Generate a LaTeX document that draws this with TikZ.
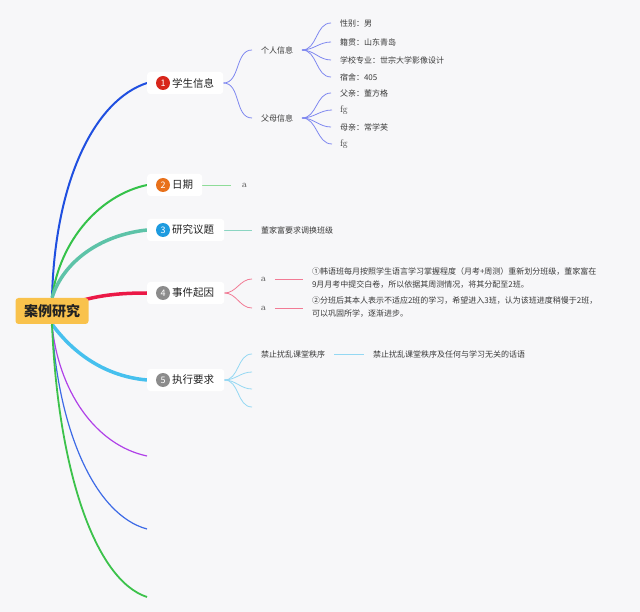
\documentclass[tikz,border=0pt]{standalone}
\usepackage{fontspec}
\newfontfamily\cjk{Noto Sans CJK SC}
\usetikzlibrary{backgrounds}
\definecolor{bgcol}{HTML}{F7F7F9}
\definecolor{rootfill}{HTML}{F9C24C}
\definecolor{txtdark}{HTML}{222222}
\definecolor{txtleaf}{HTML}{3A3A3A}
\definecolor{cA}{HTML}{1F4FE0}
\definecolor{cB}{HTML}{35C24A}
\definecolor{cC}{HTML}{5DC3A8}
\definecolor{cD}{HTML}{EB1846}
\definecolor{cE}{HTML}{46C0EE}
\definecolor{cF}{HTML}{B040E8}
\definecolor{cG}{HTML}{3D6AE6}
\definecolor{cH}{HTML}{3CC24B}
\definecolor{sA}{HTML}{7F88F0}
\definecolor{sB}{HTML}{8EDC98}
\definecolor{sC}{HTML}{8BD5C2}
\definecolor{sD}{HTML}{F27B95}
\definecolor{sE}{HTML}{94D8F3}
\definecolor{iA}{HTML}{D8261B}
\definecolor{iB}{HTML}{E8711B}
\definecolor{iC}{HTML}{1E9BDF}
\definecolor{iD}{HTML}{8C8C8C}
\tikzset{
  rootbox/.style={fill=rootfill, rounded corners=3pt, minimum width=73pt, minimum height=26pt, inner sep=0pt,
    font=\cjk\bfseries\fontsize{14}{16}\selectfont, text=txtdark},
  mainbox/.style={fill=white, rounded corners=3pt, minimum height=22pt, inner sep=0pt, anchor=west},
  icon/.style={circle, fill=#1, text=white, minimum size=14pt, inner sep=0pt, font=\cjk\fontsize{9}{9}\selectfont},
  mainlabel/.style={anchor=west, inner sep=0pt, font=\cjk\fontsize{10.5}{12}\selectfont, text=txtdark},
  sublabel/.style={anchor=west, inner sep=0pt, outer xsep=9pt, font=\cjk\fontsize{8}{10}\selectfont, text=txtleaf},
  latinlabel/.style={anchor=west, inner sep=0pt, outer xsep=8pt, font=\fontsize{9.5}{11}\selectfont, text=txtleaf},
  para/.style={anchor=west, inner sep=0pt, outer xsep=9pt, align=left, font=\cjk\fontsize{8}{13}\selectfont, text=txtleaf},
  subline/.style={draw=#1, line width=0.8pt},
}
\begin{document}
\begin{tikzpicture}[x=1pt,y=-1pt]
\useasboundingbox (0,0) rectangle (640,612);
% root
\node[rootbox] (root) at (52,311) {案例研究};
% main boxes
\node[mainbox, minimum width=76pt] (m1) at (147,83) {};
\node[icon=iA] (i1) at (163,83) {1};
\node[mainlabel] (l1) at (172,83) {学生信息};
\node[mainbox, minimum width=55pt] (m2) at (147,185) {};
\node[icon=iB] (i2) at (163,185) {2};
\node[mainlabel] (l2) at (172,185) {日期};
\node[mainbox, minimum width=77pt] (m3) at (147,230) {};
\node[icon=iC] (i3) at (163,230) {3};
\node[mainlabel] (l3) at (172,230) {研究议题};
\node[mainbox, minimum width=77pt] (m4) at (147,293) {};
\node[icon=iD] (i4) at (163,293) {4};
\node[mainlabel] (l4) at (172,293) {事件起因};
\node[mainbox, minimum width=77pt] (m5) at (147,380) {};
\node[icon=iD] (i5) at (163,380) {5};
\node[mainlabel] (l5) at (172,380) {执行要求};
\coordinate (e6) at (147,456);
\coordinate (e7) at (147,529);
\coordinate (e8) at (147,597);
% branch 1
\node[sublabel] (s11) at (252,50) {个人信息};
\node[sublabel] (s12) at (252,118) {父母信息};
\node[sublabel] (t1) at (331,23) {性别：男};
\node[sublabel] (t2) at (331,42) {籍贯：山东青岛};
\node[sublabel] (t3) at (331,60) {学校专业：世宗大学影像设计};
\node[sublabel] (t4) at (331,77) {宿舍：405};
\node[sublabel] (t5) at (331,93) {父亲：董方格};
\node[latinlabel] (t6) at (332,110) {fg};
\node[sublabel] (t7) at (331,127) {母亲：常学芙};
\node[latinlabel] (t8) at (332,144) {fg};
% branch 2
\node[latinlabel, outer xsep=11pt] (a2) at (231,185) {a};
% branch 3
\node[sublabel] (s3) at (252,230) {董家富要求调换班级};
% branch 4
\node[latinlabel, outer xsep=9pt] (a41) at (252,279) {a};
\node[latinlabel, outer xsep=9pt] (a42) at (252,308) {a};
\node[para] (p41) at (303,278.5) {①韩语班每月按照学生语言学习掌握程度（月考+周测）重新划分班级，董家富在\\9月月考中提交白卷，所以依据其周测情况，将其分配至2班。};
\node[para] (p42) at (303,307.5) {②分班后其本人表示不适应2班的学习，希望进入3班，认为该班进度稍慢于2班，\\可以巩固所学，逐渐进步。};
% branch 5
\node[sublabel] (s51) at (252,354) {禁止扰乱课堂秩序};
\coordinate (c52) at (252,372);
\coordinate (c53) at (252,389);
\coordinate (c54) at (252,407);
\node[sublabel] (u51) at (364,354) {禁止扰乱课堂秩序及任何与学习无关的话语};

\begin{scope}[on background layer]
\fill[bgcol] (0,0) rectangle (640,612);
% main connectors
\draw[cA, line width=2pt] (root.north) .. controls (55,180) and (95,100) .. (m1.west);
\draw[cB, line width=2pt] (root.north) .. controls (60,240) and (100,195) .. (m2.west);
\draw[cC, line width=3.5pt] (root.north) .. controls (63,262) and (100,235) .. (m3.west);
\draw[cD, line width=3.5pt] (root.center) .. controls (85,297) and (110,293) .. (m4.west);
\draw[cE, line width=3.5pt] (root.south) .. controls (60,335) and (90,375) .. (m5.west);
\draw[cF, line width=1.2pt] (root.south) .. controls (58,390) and (95,445) .. (e6);
\draw[cG, line width=1.2pt] (root.south) .. controls (58,430) and (95,515) .. (e7);
\draw[cH, line width=1.8pt] (root.south) .. controls (58,470) and (95,580) .. (e8);
% branch 1 subs
\draw[subline=sA] (m1.east) to[out=0,in=180] (s11.west);
\draw[subline=sA] (m1.east) to[out=0,in=180] (s12.west);
\foreach \t in {t1,t2,t3,t4} \draw[subline=sA] (s11.east) to[out=0,in=180] (\t.west);
\foreach \t in {t5,t6,t7,t8} \draw[subline=sA] (s12.east) to[out=0,in=180] (\t.west);
% branch 2
\draw[subline=sB] (m2.east) -- (a2.west);
% branch 3
\draw[subline=sC] (m3.east) -- (s3.west);
% branch 4
\draw[subline=sD] (m4.east) to[out=0,in=180] (a41.west);
\draw[subline=sD] (m4.east) to[out=0,in=180] (a42.west);
\draw[subline=sD] (a41.east) -- (p41.west |- a41.east);
\draw[subline=sD] (a42.east) -- (p42.west |- a42.east);
% branch 5
\draw[subline=sE] (m5.east) to[out=0,in=180] (s51.west);
\draw[subline=sE] (m5.east) to[out=0,in=180] (c52);
\draw[subline=sE] (m5.east) to[out=0,in=180] (c53);
\draw[subline=sE] (m5.east) to[out=0,in=180] (c54);
\draw[subline=sE] (s51.east) -- (u51.west);
\end{scope}
\end{tikzpicture}
\end{document}
